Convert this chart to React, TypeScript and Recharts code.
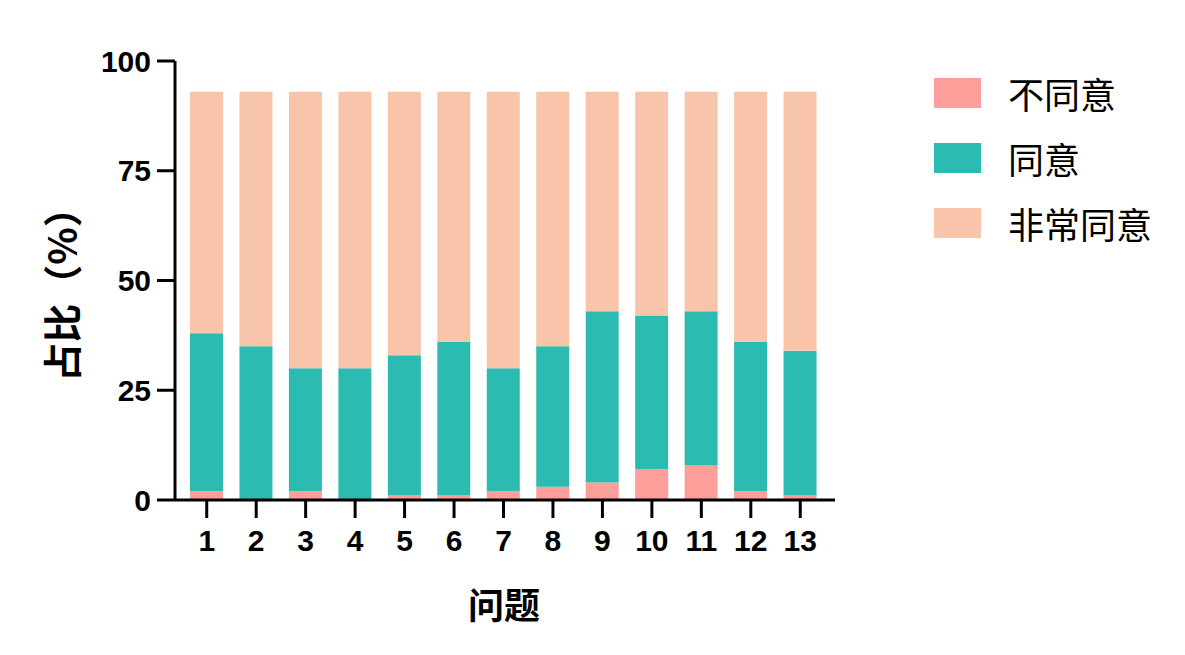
import React from "react";
import { BarChart, Bar, XAxis, YAxis, Label } from "recharts";

const questions = ["1", "2", "3", "4", "5", "6", "7", "8", "9", "10", "11", "12", "13"];
// cumulative height of each stack
const disagree = [2, 0, 2, 0, 1, 1, 2, 3, 4, 7, 8, 2, 1];
const agreeTop = [38, 35, 30, 30, 33, 36, 30, 35, 43, 42, 43, 36, 34];
const total = [93, 93, 93, 93, 93, 93, 93, 93, 93, 93, 93, 93, 93];
const yTicks = [0, 25, 50, 75, 100];

const seriesNames = ["不同意", "同意", "非常同意"];
const colors = ["#FE9E9B", "#2CBBB1", "#F8C4AA"];

const data = questions.map((q, i) => ({
  q,
  disagree: disagree[i],
  agree: agreeTop[i] - disagree[i],
  strongly: total[i] - agreeTop[i],
}));

const latin = "'Liberation Sans', Arial, sans-serif";
const cjk = "'Noto Sans CJK SC', 'Noto Sans', sans-serif";

function LegendBox() {
  return (
    <div style={{ position: "absolute", left: 934, top: 78 }}>
      {seriesNames.map((name, i) => (
        <div
          key={name}
          style={{ display: "flex", alignItems: "center", height: 30, marginBottom: 35 }}
        >
          <div style={{ width: 47, height: 30, background: colors[i] }} />
          <span
            style={{ marginLeft: 27, fontFamily: cjk, fontSize: 36, color: "#000", lineHeight: "30px" }}
          >
            {name}
          </span>
        </div>
      ))}
    </div>
  );
}

export default function App() {
  return (
    <div style={{ position: "absolute", left: 0, top: 0, width: 1185, height: 655 }}>
      <BarChart
        width={1185}
        height={655}
        data={data}
        margin={{ top: 61, right: 350, bottom: 95, left: 0 }}
        barSize={33}
      >
        <XAxis
          dataKey="q"
          height={60}
          padding={{ left: 7, right: 10 }}
          axisLine={{ stroke: "#000", strokeWidth: 3 }}
          tickLine={{ stroke: "#000", strokeWidth: 3 }}
          tickSize={18}
          tickMargin={12}
          tick={{ fill: "#000", fontSize: 30, fontWeight: 700, fontFamily: latin }}
        >
          <Label
            content={() => (
              <text
                x={504}
                y={603}
                textAnchor="middle"
                dominantBaseline="central"
                style={{ fill: "#000", fontSize: 36, fontWeight: 700, fontFamily: cjk }}
              >
                问题
              </text>
            )}
          />
        </XAxis>
        <YAxis
          width={175}
          domain={[0, 100]}
          ticks={yTicks}
          interval={0}
          axisLine={{ stroke: "#000", strokeWidth: 3 }}
          tickLine={{ stroke: "#000", strokeWidth: 3 }}
          tickSize={18}
          tickMargin={6}
          tick={{ fill: "#000", fontSize: 30, fontWeight: 700, fontFamily: latin }}
        >
          <Label
            content={() => (
              <text
                x={60}
                y={285}
                transform="rotate(-90 60 285)"
                textAnchor="middle"
                dominantBaseline="central"
                style={{ fill: "#000", fontSize: 39, fontWeight: 700, fontFamily: cjk }}
              >
                占比（%）
              </text>
            )}
          />
        </YAxis>
        <Bar dataKey="disagree" name={seriesNames[0]} stackId="a" fill={colors[0]} isAnimationActive={false} />
        <Bar dataKey="agree" name={seriesNames[1]} stackId="a" fill={colors[1]} isAnimationActive={false} />
        <Bar dataKey="strongly" name={seriesNames[2]} stackId="a" fill={colors[2]} isAnimationActive={false} />
      </BarChart>
      <LegendBox />
    </div>
  );
}
